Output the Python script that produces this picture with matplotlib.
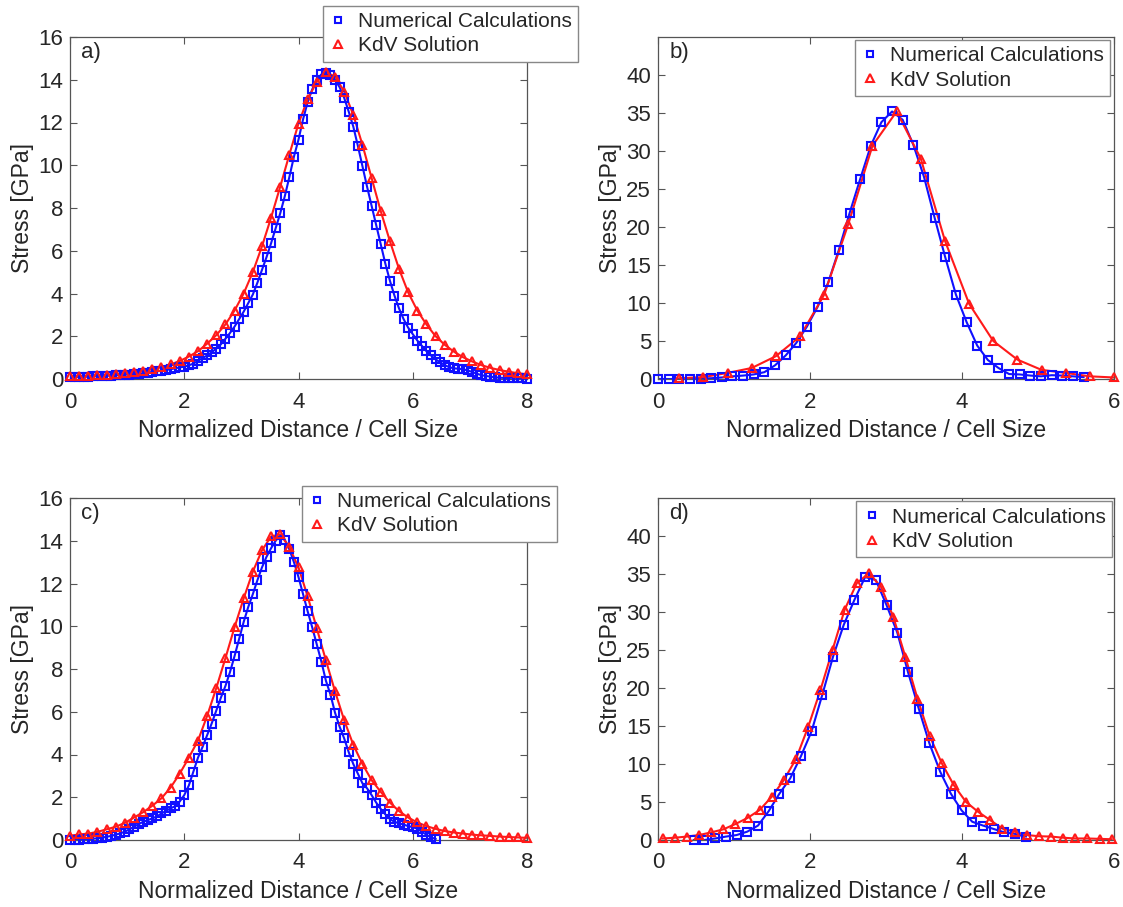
import numpy as np
import matplotlib
matplotlib.use("Agg")
import matplotlib.pyplot as plt

plt.rcParams["font.family"] = ["Liberation Sans", "DejaVu Sans"]

# ---- data ----
# panel a) numerical (dense), x from 0 to 8
num_a = [0.08, 0.09, 0.10, 0.10, 0.11, 0.12, 0.13, 0.14, 0.15, 0.16,
         0.17, 0.18, 0.20, 0.21, 0.23, 0.25, 0.27, 0.30, 0.33, 0.36,
         0.39, 0.42, 0.46, 0.50, 0.54, 0.58, 0.64, 0.72, 0.85, 0.98,
         1.10, 1.25, 1.42, 1.62, 1.88, 2.15, 2.45, 2.80, 3.15, 3.55,
         3.95, 4.50, 5.10, 5.70, 6.35, 7.05, 7.75, 8.55, 9.45, 10.40,
         11.20, 12.15, 12.95, 13.55, 14.00, 14.25, 14.30, 14.20, 14.00, 13.65,
         13.15, 12.50, 11.80, 10.90, 9.95, 9.00, 8.10, 7.20, 6.30, 5.40,
         4.60, 3.90, 3.30, 2.80, 2.40, 2.10, 1.80, 1.55, 1.30, 1.10,
         0.92, 0.78, 0.65, 0.55, 0.50, 0.48, 0.46, 0.40, 0.33, 0.25,
         0.18, 0.14, 0.11, 0.08, 0.06, 0.05, 0.05, 0.06, 0.05, 0.03,
         0.02]
kdv_a = [0.12, 0.13, 0.15, 0.17, 0.20, 0.23, 0.27, 0.32, 0.38, 0.46,
         0.56, 0.68, 0.84, 1.05, 1.30, 1.65, 2.05, 2.55, 3.20, 4.00,
         5.00, 6.20, 7.55, 9.00, 10.50, 11.95, 13.10, 13.90, 14.35, 14.15,
         13.45, 12.35, 10.95, 9.40, 7.85, 6.45, 5.15, 4.05, 3.20, 2.55,
         2.00, 1.60, 1.28, 1.02, 0.82, 0.65, 0.52, 0.42, 0.34, 0.27,
         0.22]

# panel b)
num_b = [0.0, 0.0, 0.0, 0.05, 0.05, 0.1, 0.2, 0.35, 0.45, 0.6,
         0.9, 1.8, 3.1, 4.75, 6.9, 9.5, 12.7, 17.0, 21.8, 26.3,
         30.7, 33.8, 35.2, 34.1, 30.8, 26.6, 21.2, 16.0, 11.1, 7.5,
         4.4, 2.5, 1.45, 0.65, 0.6, 0.45, 0.35, 0.5, 0.45, 0.35,
         0.25]
kdv_b = [0.1, 0.25, 0.8, 1.45, 3.0, 5.6, 11.1, 20.4, 30.7, 35.2,
         29.0, 18.2, 9.9, 5.0, 2.55, 1.2, 0.8, 0.35, 0.2]

# panel c)
num_c = [0.00, 0.01, 0.02, 0.03, 0.04, 0.06, 0.08, 0.11, 0.15, 0.19,
         0.25, 0.31, 0.39, 0.50, 0.62, 0.74, 0.85, 0.93, 1.01, 1.10,
         1.24, 1.36, 1.48, 1.58, 1.80, 2.10, 2.55, 3.20, 3.85, 4.35,
         4.90, 5.45, 6.05, 6.65, 7.20, 7.85, 8.60, 9.40, 10.20, 10.90,
         11.50, 12.15, 12.75, 13.25, 13.65, 14.00, 14.25, 14.05, 13.60, 13.00,
         12.30, 11.50, 10.70, 9.95, 9.15, 8.35, 7.45, 6.80, 5.95, 5.30,
         4.75, 4.10, 3.55, 3.10, 2.65, 2.42, 2.10, 1.75, 1.45, 1.20,
         0.98, 0.85, 0.78, 0.72, 0.65, 0.60, 0.53, 0.38, 0.25, 0.12,
         0.05]
kdv_c = [0.20, 0.26, 0.30, 0.38, 0.50, 0.62, 0.80, 1.05, 1.30, 1.60,
         1.95, 2.45, 3.10, 3.85, 4.65, 5.80, 7.10, 8.50, 9.95, 11.30,
         12.55, 13.55, 14.20, 14.30, 13.70, 12.75, 11.40, 9.90, 8.40, 6.95,
         5.60, 4.45, 3.55, 2.80, 2.25, 1.75, 1.35, 1.05, 0.82, 0.65,
         0.52, 0.42, 0.35, 0.30, 0.25, 0.22, 0.19, 0.16, 0.14, 0.12,
         0.10]

# panel d)
num_d = [0.0, 0.0, 0.2, 0.45, 0.65, 1.1, 1.9, 3.8, 6.1, 8.1,
         11.0, 14.3, 19.1, 24.1, 28.3, 31.6, 34.6, 34.2, 30.9, 27.3,
         22.1, 17.3, 12.7, 9.0, 6.1, 3.9, 2.4, 1.9, 1.45, 1.0,
         0.8, 0.45]
kdv_d = [0.2, 0.3, 0.45, 0.65, 1.0, 1.4, 2.1, 2.9, 3.95, 5.7,
         7.9, 10.7, 14.9, 19.7, 25.0, 30.3, 33.8, 35.1, 33.3, 29.4,
         24.1, 18.6, 13.7, 10.1, 7.2, 5.0, 3.7, 2.6, 1.5, 1.1,
         0.65, 0.5, 0.45, 0.3, 0.2, 0.2, 0.15, 0.1]

# x ranges of each sampled series (start, end)
panels = [
    ("a)", (0, 8.0), num_a, (0, 8.0), kdv_a, 8, 16, 2),
    ("b)", (0, 5.6), num_b, (0.28, 6.0), kdv_b, 6, 45, 5),
    ("c)", (0, 6.4), num_c, (0, 8.0), kdv_c, 8, 16, 2),
    ("d)", (0.47, 4.84), num_d, (0.06, 5.97), kdv_d, 6, 45, 5),
]

W, H = 1123, 907
rects = [
    [70 / W, 1 - 379 / H, 457 / W, 342 / H],
    [658 / W, 1 - 379 / H, 456 / W, 342 / H],
    [70 / W, 1 - 840 / H, 457 / W, 342 / H],
    [658 / W, 1 - 840 / H, 456 / W, 342 / H],
]
legend_anchor = [(1.112, 1.091), (0.992, 0.991), (1.066, 1.035), (0.995, 0.99)]

txt = "#262626"
edge = "#555555"
blue = "#1010ff"
red = "#ff1a1a"

fig = plt.figure(figsize=(W / 100, H / 100), dpi=100)

for (lab, nx, ny, kx, ky, xmax, ymax, ystep), rect, anc in zip(panels, rects, legend_anchor):
    ax = fig.add_axes(rect)
    xn = np.linspace(nx[0], nx[1], len(ny))
    xk = np.linspace(kx[0], kx[1], len(ky))

    ax.plot(xn, ny, color=blue, lw=1.5, zorder=2)
    ax.plot(xk, ky, color=red, lw=1.5, zorder=2)
    ax.plot(xn, ny, ls="none", marker="s", ms=5.5, mfc="none", mec=blue,
            mew=1.5, label="Numerical Calculations", clip_on=False, zorder=3)
    ax.plot(xk, ky, ls="none", marker="^", ms=6, mfc="none", mec=red,
            mew=1.5, label="KdV Solution", clip_on=False, zorder=3)

    ax.set_xlim(0, xmax)
    ax.set_ylim(0, ymax)
    ax.set_xticks(np.arange(0, xmax + 1, 2))
    ax.set_yticks(np.arange(0, min(ymax, 40) + 1, ystep))
    ax.tick_params(direction="in", top=True, right=True, length=5,
                   width=0.8, color=edge, labelsize=16, labelcolor=txt)
    ax.tick_params(axis="x", pad=9)
    ax.tick_params(axis="y", pad=5)
    for s in ax.spines.values():
        s.set_color(edge)
        s.set_linewidth(0.9)

    ax.set_xlabel("Normalized Distance / Cell Size", fontsize=16.5, color=txt, labelpad=5)
    ax.set_ylabel("Stress [GPa]", fontsize=16.5, color=txt, labelpad=3)
    ax.text(0.025, 0.985, lab, transform=ax.transAxes, ha="left", va="top",
            fontsize=16, color=txt)

    leg = ax.legend(loc="upper right", bbox_to_anchor=anc, borderaxespad=0,
                    fontsize=15, handlelength=0.9, handletextpad=0.5,
                    borderpad=0.3, labelspacing=0.25, fancybox=False,
                    framealpha=1, edgecolor="#888888", markerscale=0.9)
    leg.get_frame().set_linewidth(1.0)
    for t in leg.get_texts():
        t.set_color(txt)
    leg.set_zorder(5)

fig.savefig("out.png", dpi=100)
